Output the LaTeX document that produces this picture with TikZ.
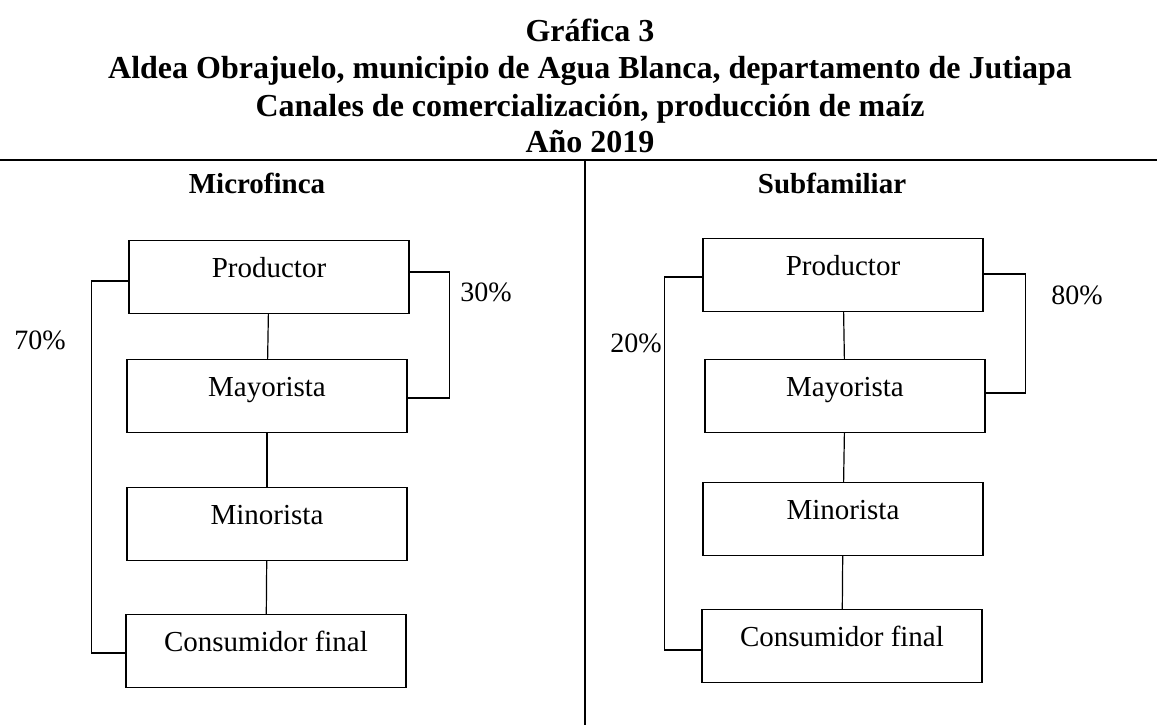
\documentclass[tikz,border=0pt]{standalone}
\usepackage{fontspec}
\setmainfont{Liberation Serif}
\usepackage{tikz}
\usetikzlibrary{positioning}
\usetikzlibrary{calc}
\tikzstyle{canal}=[rectangle,draw,line width=1.2pt,minimum width=280pt,minimum height=73pt,inner sep=0pt,text height=17pt,text depth=17pt,font=\fontsize{29}{34}\selectfont]
\tikzstyle{liga} = [draw,line width=1.2pt]
\tikzstyle{pct} = [font=\fontsize{28}{34}\selectfont]
\tikzstyle{titulo} = [anchor=base,inner sep=0pt,font=\fontsize{32}{38}\selectfont\bfseries]
\tikzstyle{estrato} = [font=\fontsize{29}{34}\selectfont\bfseries]

\begin{document}
\begin{tikzpicture}[x=1pt,y=-1pt]
    \useasboundingbox (0,0) rectangle (1157,725);

    % titulo
    \node[titulo] (t1) at (590,42) {Gráfica 3};
    \node[titulo] (t2) at (590,79) {Aldea Obrajuelo, municipio de Agua Blanca, departamento de Jutiapa};
    \node[titulo] (t3) at (590,116) {Canales de comercialización, producción de maíz};
    \node[titulo] (t4) at (590,152) {Año 2019};
    \draw[line width=1.5pt] (0,160) -- (1157,160);
    \draw[line width=1.3pt] (585,160) -- (585,725);

    \node[estrato] (micro) at (257,183) {Microfinca};
    \node[estrato] (subf) at (832,183) {Subfamiliar};

    % cajas
    \foreach \pos/ \name/ \txt in {{(269,277)/prodA/Productor}, {(267,396)/mayA/Mayorista}, {(267,524)/minA/Minorista}, {(266,651)/consA/Consumidor final},
                                   {(843,275)/prodB/Productor}, {(845,396)/mayB/Mayorista}, {(843,519)/minB/Minorista}, {(842,646)/consB/Consumidor final}}
        \node[canal] (\name) at \pos {\txt};

    \foreach \source/ \dest in {prodA/mayA, mayA/minA, minA/consA, prodB/mayB, mayB/minB, minB/consB}
        \path[liga] (\source) -- (\dest);

    % canales directos
    \draw[liga] ($(prodA.west)+(0,4)$) -- ++(-37,0) |- ($(consA.west)+(0,2)$);
    \draw[liga] ($(prodA.east)+(0,-5)$) -- ++(40,0) |- ($(mayA.east)+(0,2)$);
    \draw[liga] ($(prodB.west)+(0,2)$) -- ++(-38,0) |- ($(consB.west)+(0,4)$);
    \draw[liga] ($(prodB.east)+(0,-1)$) -- ++(42,0) |- ($(mayB.east)+(0,-3)$);

    \node[pct] (p70) at (40,340) {70\%};
    \node[pct] (p30) at (486,292) {30\%};
    \node[pct] (p20) at (636,343) {20\%};
    \node[pct] (p80) at (1077,295) {80\%};
\end{tikzpicture}
\end{document}
